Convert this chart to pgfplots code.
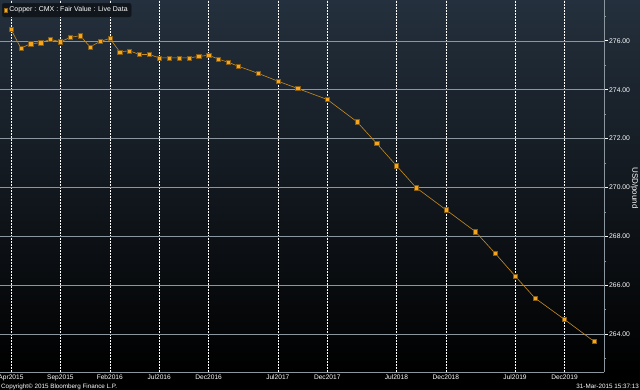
\documentclass[border=0pt]{standalone}
\usepackage{fontspec}
\setmainfont{Liberation Sans}
\usepackage{pgfplots}
\pgfplotsset{compat=1.18}
\definecolor{bgtop}{RGB}{36,48,61}
\definecolor{linec}{RGB}{200,140,35}
\definecolor{markc}{RGB}{245,165,30}
\definecolor{gridh}{RGB}{140,150,158}
\definecolor{legbg}{RGB}{16,22,28}
\begin{document}
\begin{tikzpicture}
\useasboundingbox (0,0) rectangle (640pt,390pt);
\fill[black] (0,0) rectangle (640pt,390pt);
\shade[top color=bgtop, bottom color=black] (0,18pt) rectangle (640pt,390pt);
\begin{axis}[
  at={(0pt,18pt)}, anchor=south west,
  scale only axis, width=604pt, height=372pt,
  xmin=-1.11, xmax=60.0, ymin=262.45, ymax=277.67,
  axis x line*=bottom, axis y line*=right,
  axis line style={color=gridh, line width=0.6pt},
  xtick={0,5,10,15,20,27,32,39,44,51,56},
  xticklabels={Apr2015,Sep2015,Feb2016,Jul2016,Dec2016,Jul2017,Dec2017,Jul2018,Dec2018,Jul2019,Dec2019},
  x tick style={draw=none},
  xticklabel style={font=\fontsize{6.6}{7}\selectfont, text=white!90, inner sep=1pt, yshift=2.5pt},
  ytick={264,266,...,276},
  minor ytick={263,265,...,277},
  tick align=outside,
  y tick style={color=white, line width=0.7pt},
  major tick length=4pt, minor tick length=2pt,
  minor y tick style={color=gridh, line width=0.5pt},
  yticklabel style={font=\fontsize{6.8}{8}\selectfont, text=white!90, inner sep=1pt},
  /pgf/number format/assume math mode=true,
  yticklabel={\pgfmathprintnumber[fixed,fixed zerofill,precision=2]{\tick}},
  xmajorgrids, ymajorgrids,
  major x grid style={color=white!65, line width=0.4pt, dash pattern=on 0.6pt off 0.9pt},
  major y grid style={color=gridh, line width=0.55pt},
  legend pos=north west,
  legend style={xshift=-16pt, yshift=8pt, fill=legbg, draw=legbg, rounded corners=2pt, font=\fontsize{7}{8}\selectfont, text=white, inner sep=1.5pt},
  legend cell align=left,
]
\addlegendimage{only marks, mark=square*, mark size=1.8pt, mark options={fill=markc, draw=markc!60!black}}
\addlegendentry{Copper : CMX : Fair Value : Live Data}
\addplot[forget plot, color=linec, line width=0.6pt, mark=square*, mark size=2.1pt, mark options={fill=markc, draw=markc!55!black, line width=0.4pt}] coordinates {
(0,276.47) (1,275.70) (2,275.88) (3,275.92) (4,276.06) (5,275.96) (6,276.14) (7,276.21)
(8,275.75) (9,275.97) (10,276.10) (11,275.55) (12,275.59) (13,275.44) (14,275.44)
(15,275.30) (16,275.30) (17,275.30) (18,275.30) (19,275.36) (20,275.41) (21,275.25)
(22,275.12) (23,274.96) (25,274.67) (27,274.35) (29,274.05) (32,273.60) (35,272.69)
(37,271.80) (39,270.89) (41,269.99) (44,269.09) (47,268.19) (49,267.30) (51,266.38)
(53,265.48) (56,264.60) (59,263.70)
};
\end{axis}
\node[rotate=-90, text=white!90, font=\fontsize{8}{9}\selectfont] at (634.5pt,202pt) {USD/pound};
\node[anchor=west, text=white!90, font=\fontsize{6.3}{7}\selectfont, inner sep=0pt] at (1pt,3.5pt) {Copyright© 2015 Bloomberg Finance L.P.};
\node[anchor=east, text=white!90, font=\fontsize{6.3}{7}\selectfont, inner sep=0pt] at (639pt,3.5pt) {31-Mar-2015 15:37:13};
\end{tikzpicture}
\end{document}
